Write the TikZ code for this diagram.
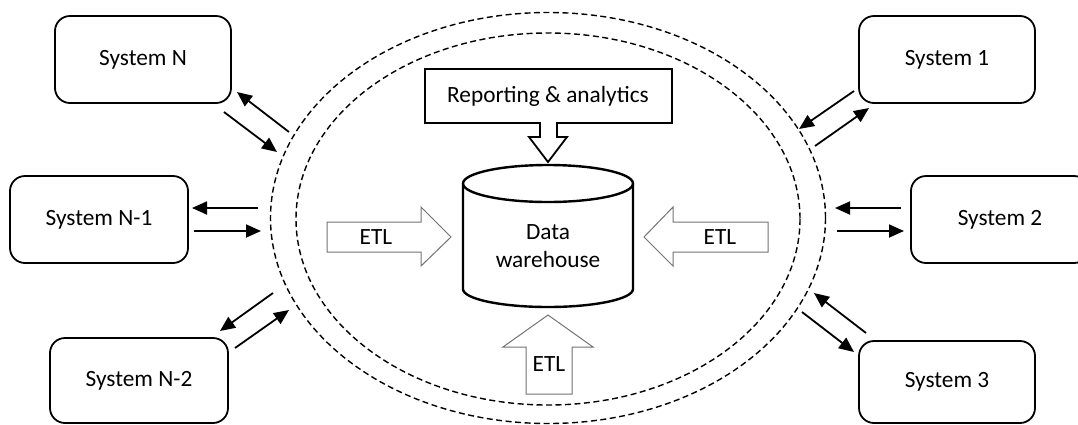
\documentclass[tikz,border=0pt]{standalone}
\usepackage{fontspec}
\setmainfont{Carlito}
\usetikzlibrary{arrows.meta}
\begin{document}
\begin{tikzpicture}[x=1pt,y=-1pt,
  every node/.style={font=\fontsize{23.3}{28}\selectfont},
  sysbox/.style={draw, line width=1.8pt, rounded corners=15pt, minimum width=176pt, minimum height=87pt, inner sep=0pt},
  sarrow/.style={line width=1.8pt, -{Triangle[length=15pt,width=13pt]}},
  ring/.style={line width=1.4pt, dash pattern=on 6pt off 3.5pt},
  etl/.style={draw=black!55, line width=1pt, fill=white},
  callout/.style={draw, line width=1.8pt, fill=white},
  cyl/.style={draw, line width=2.4pt}]
\useasboundingbox (0,0) rectangle (1078,424);

% dashed rings
\draw[ring] (548,218) ellipse [x radius=277.5, y radius=205.5];
\draw[ring] (548,219) ellipse [x radius=252, y radius=186];

% system boxes
\node[sysbox] (sN)  at (143,59.5) {System N};
\node[sysbox, minimum width=178pt] (sN1) at (99,219.5) {System N-1};
\node[sysbox, minimum width=178pt, minimum height=85pt] (sN2) at (139,380.5) {System N-2};
\node[sysbox] (s1)  at (947,59.5) {System 1};
\node[sysbox, minimum width=178pt] (s2)  at (1000,219.5) {System 2};
\node[sysbox, minimum height=82pt] (s3)  at (947,382) {System 3};

% small arrows
\coordinate (aN1) at (289,132); \coordinate (bN1) at (237,92);
\coordinate (aN2) at (224,112); \coordinate (bN2) at (277,152);
\draw[sarrow] (aN1) -- (bN1);
\draw[sarrow] (aN2) -- (bN2);

\coordinate (aM1) at (258,208); \coordinate (bM1) at (192,208);
\coordinate (aM2) at (194,231); \coordinate (bM2) at (261,231);
\draw[sarrow] (aM1) -- (bM1);
\draw[sarrow] (aM2) -- (bM2);

\coordinate (aL1) at (273,293); \coordinate (bL1) at (220,331);
\coordinate (aL2) at (235,348); \coordinate (bL2) at (289,310);
\draw[sarrow] (aL1) -- (bL1);
\draw[sarrow] (aL2) -- (bL2);

\coordinate (a11) at (854,91); \coordinate (b11) at (799,129);
\coordinate (a12) at (815,146); \coordinate (b12) at (869,108);
\draw[sarrow] (a11) -- (b11);
\draw[sarrow] (a12) -- (b12);

\coordinate (a21) at (901,208); \coordinate (b21) at (835,208);
\coordinate (a22) at (837,231); \coordinate (b22) at (904,231);
\draw[sarrow] (a21) -- (b21);
\draw[sarrow] (a22) -- (b22);

\coordinate (a31) at (866,333); \coordinate (b31) at (814,293);
\coordinate (a32) at (802,312); \coordinate (b32) at (854,352);
\draw[sarrow] (a31) -- (b31);
\draw[sarrow] (a32) -- (b32);

% reporting callout
\draw[callout] (425,69) -- (672,69) -- (672,123) -- (557,123) -- (557,137) -- (567,137) -- (548,162) -- (529,137) -- (540,137) -- (540,123) -- (425,123) -- cycle;
\node (rep) at (548,96) {Reporting \& analytics};

% cylinder
\draw[cyl] (463,183.5) -- (463,289) .. controls (463,298.9) and (501,307) .. (548,307)
  .. controls (595,307) and (633,298.9) .. (633,289) -- (633,183.5);
\draw[cyl] (548,183.5) ellipse [x radius=85, y radius=18.5];
\node[align=center] (dw) at (548,246) {Data\\warehouse};

% ETL arrows
\draw[etl] (327,222) -- (421,222) -- (421,207) -- (451,237) -- (421,266) -- (421,252) -- (327,252) -- cycle;
\node (etlL) at (376,237) {ETL};
\draw[etl] (768,222) -- (673,222) -- (673,207) -- (644,237) -- (673,266) -- (673,252) -- (768,252) -- cycle;
\node (etlR) at (720,237) {ETL};
\draw[etl] (526,394) -- (526,347) -- (503,347) -- (548,315) -- (593,347) -- (572,347) -- (572,394) -- cycle;
\node (etlB) at (549,364) {ETL};
\end{tikzpicture}
\end{document}
